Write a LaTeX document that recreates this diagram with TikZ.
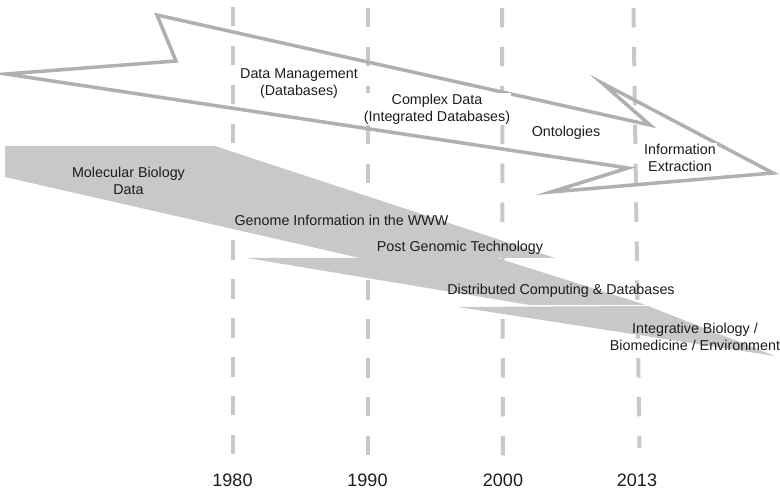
\documentclass[tikz,border=0pt]{standalone}
\usepackage{fontspec}
\setmainfont{Liberation Sans}
\definecolor{dashgray}{RGB}{200,200,200}
\definecolor{arrowgray}{RGB}{176,176,176}
\definecolor{bandgray}{RGB}{199,200,199}
\definecolor{txt}{RGB}{30,28,28}
\begin{document}
\begin{tikzpicture}[x=1pt,y=-1pt,
  yearline/.style={draw=dashgray, line width=4pt, dash pattern=on 19.5pt off 19.4pt},
  arrowline/.style={draw=arrowgray, line width=3.5pt, line join=miter},
  band/.style={fill=bandgray, draw=none},
  lbl/.style={font=\fontsize{14.3}{17}\selectfont, text=txt, align=center, inner sep=1pt},
  wlbl/.style={lbl, fill=white},
  yearlbl/.style={font=\fontsize{18}{20}\selectfont, text=txt, inner sep=1pt}]
\useasboundingbox (0,0) rectangle (780,494);
\fill[white] (0,0) rectangle (780,494);

% year guide lines
\coordinate (t80) at (232.5,7);  \coordinate (b80) at (232.5,455);
\coordinate (t90) at (367.5,8);  \coordinate (b90) at (367.5,460);
\coordinate (t00) at (502,8);    \coordinate (b00) at (503,457);
\coordinate (t13) at (633.5,8);  \coordinate (b13) at (639.5,448);
\draw[yearline] (t80) -- (b80);
\draw[yearline] (t90) -- (b90);
\draw[yearline] (t00) -- (b00);
\draw[yearline] (t13) -- (b13);

% top outlined arrow
\draw[arrowline] (6,74) -- (176,61) -- (157,15) -- (650,125) -- (602,83)
  -- (773,173) -- (551,192) -- (628,168) -- cycle;

% grey bands
\fill[band] (5,146) -- (215,146) -- (555,258) -- (360,258) -- (5,177) -- cycle;
\fill[band] (247,258) -- (497,258) -- (646,305) -- (530,305) -- cycle;
\fill[band] (458,307) -- (648,306) -- (775,356) -- cycle;

% labels in top arrow
\node[wlbl] (dm) at (299,83.5) {Data Management\\(Databases)};
\node[wlbl] (cd) at (437,109) {Complex Data\\(Integrated Databases)};
\node[lbl] (on) at (566,133) {Ontologies};
\node[wlbl] (ie) at (680,158) {Information\\Extraction};

% labels in grey bands
\node[lbl] (mb) at (128.5,181) {Molecular Biology\\Data};
\node[lbl] (gi) at (341.5,220) {Genome Information in the WWW};
\node[lbl] (pg) at (460,248) {Post Genomic Technology};
\node[lbl] (dc) at (561,291) {Distributed Computing \& Databases};
\node[lbl] (ib) at (695,337) {Integrative Biology /\\Biomedicine / Environment};

% years
\node[yearlbl] (y80) at (232.5,480) {1980};
\node[yearlbl] (y90) at (367.5,480) {1990};
\node[yearlbl] (y00) at (503,480) {2000};
\node[yearlbl] (y13) at (637,480) {2013};
\end{tikzpicture}
\end{document}
